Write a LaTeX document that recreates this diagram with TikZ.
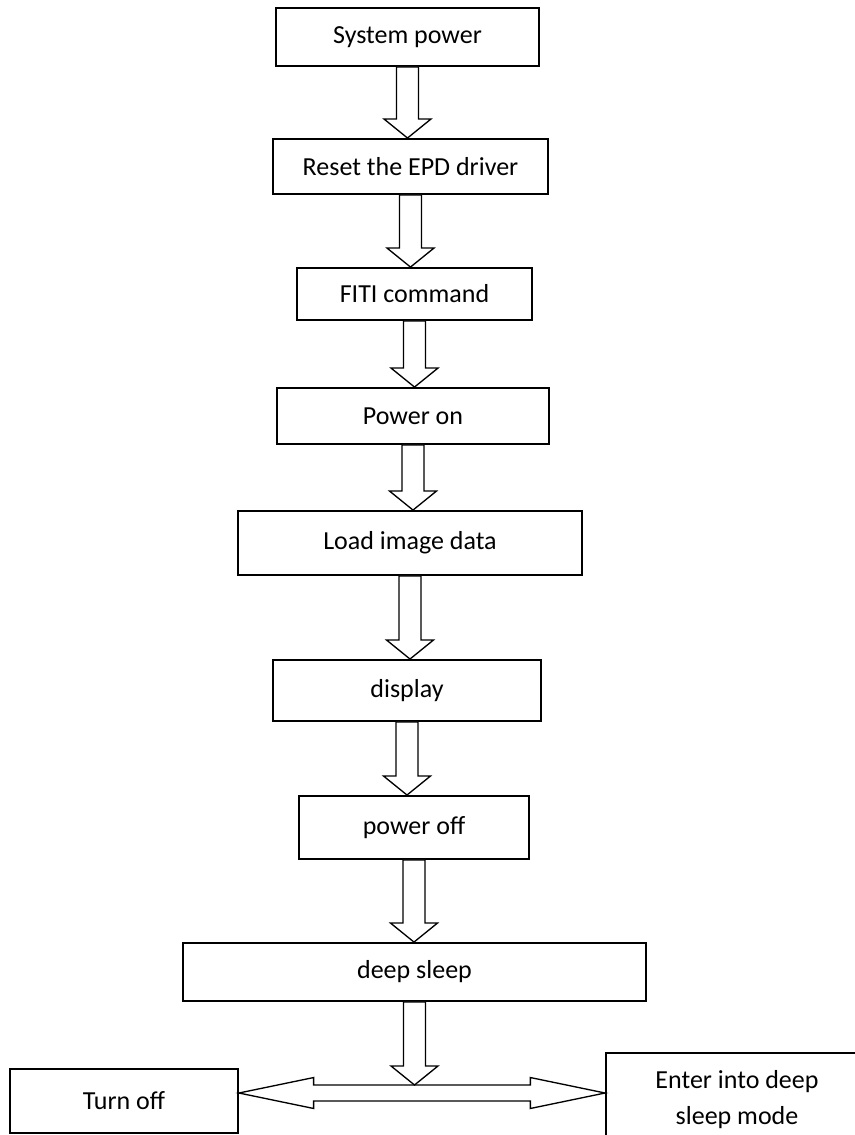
\documentclass[tikz,border=0pt]{standalone}
\usepackage{fontspec}
\setmainfont{Carlito}
\usetikzlibrary{calc}

\begin{document}
\begin{tikzpicture}[x=0.75pt,y=-0.75pt,
    box/.style={draw,line width=1.4pt,inner sep=2pt,align=center,font=\fontsize{19.5}{27}\selectfont},
    down block/.style={line width=1pt,fill=white,to path={let \p1=(\tikztostart),\p2=(\tikztotarget) in
      (\x1-8.25pt,\y1) -- (\x1-8.25pt,\y2+14.25pt) -- (\x1-17.6pt,\y2+14.25pt) -- (\x1,\y2)
      -- (\x1+17.6pt,\y2+14.25pt) -- (\x1+8.25pt,\y2+14.25pt) -- (\x1+8.25pt,\y1) -- cycle}},
    twin block/.style={line width=1pt,fill=white,to path={let \p1=(\tikztostart),\p2=(\tikztotarget) in
      (\x1,\y1) -- (\x1+56pt,\y1+11.6pt) -- (\x1+56pt,\y1+6pt) -- (\x2-56pt,\y1+6pt) -- (\x2-56pt,\y1+11.6pt)
      -- (\x2,\y1) -- (\x2-56pt,\y1-11.6pt) -- (\x2-56pt,\y1-6pt) -- (\x1+56pt,\y1-6pt) -- (\x1+56pt,\y1-11.6pt) -- cycle}}]
    \useasboundingbox (0,0) rectangle (855,1135);
    \clip (0,0) rectangle (855,1135);
    % flow boxes
    \node[box,minimum width=197.3pt,minimum height=43.5pt] (syspower) at (407.5,37) {System power};
    \node[box,minimum width=206.3pt,minimum height=41.3pt] (reset) at (410.5,166.5) {Reset the EPD driver};
    \node[box,minimum width=176.3pt,minimum height=39pt] (fiti) at (414.5,294) {FITI command};
    \node[box,minimum width=204pt,minimum height=42pt] (poweron) at (413,416) {Power on};
    \node[box,minimum width=258pt,minimum height=48pt] (load) at (410,543) {Load image data};
    \node[box,minimum width=201pt,minimum height=45.8pt] (display) at (407,690.5) {display};
    \node[box,minimum width=172.5pt,minimum height=47.3pt] (poweroff) at (414,827.5) {power off};
    \node[box,minimum width=347.3pt,minimum height=43.5pt] (deepsleep) at (414.5,972) {deep sleep};
    \node[box,minimum width=171pt,minimum height=48pt] (turnoff) at (124,1101) {Turn off};
    \node[box,minimum width=196.5pt,minimum height=70.5pt] (enter) at (737,1100) {Enter into deep\\ sleep mode};
    \coordinate (mid) at (414,1093);
    % block arrows
    \draw[down block] (syspower.south) to (reset.north);
    \draw[down block] (reset.south) to (fiti.north);
    \draw[down block] (fiti.south) to (poweron.north);
    \draw[down block] (poweron.south) to (load.north);
    \draw[down block] (load.south) to (display.north);
    \draw[down block] (display.south) to (poweroff.north);
    \draw[down block] (poweroff.south) to (deepsleep.north);
    \draw[twin block] (turnoff.east |- mid) to (enter.west |- mid);
    \draw[down block] (deepsleep.south) to ($(mid)+(0,-8)$);
\end{tikzpicture}
\end{document}
